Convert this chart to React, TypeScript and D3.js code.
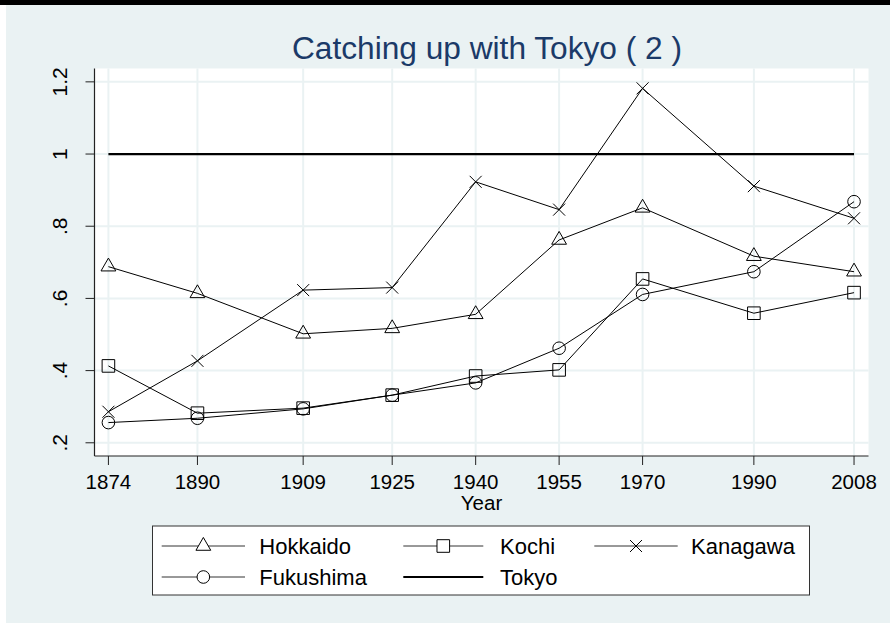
import React from "react";
import * as d3 from "d3";

const years = [1874, 1890, 1909, 1925, 1940, 1955, 1970, 1990, 2008];
const hokkaido = [0.688, 0.614, 0.502, 0.517, 0.556, 0.762, 0.851, 0.717, 0.674];
const kochi = [0.413, 0.282, 0.296, 0.332, 0.385, 0.402, 0.654, 0.559, 0.616];
const kanagawa = [0.286, 0.427, 0.623, 0.63, 0.923, 0.846, 1.182, 0.911, 0.822];
const fukushima = [0.256, 0.268, 0.294, 0.332, 0.366, 0.462, 0.611, 0.674, 0.868];
const tokyo = [1, 1, 1, 1, 1, 1, 1, 1, 1];
const yTicks = [0.2, 0.4, 0.6, 0.8, 1, 1.2];
const yTickLabels = [".2", ".4", ".6", ".8", "1", "1.2"];
const title = "Catching up with Tokyo ( 2 )";
const xTitle = "Year";

type Marker = "triangle" | "square" | "circle" | "x" | "none";
const seriesList: { name: string; values: number[]; marker: Marker; width: number }[] = [
  { name: "Hokkaido", values: hokkaido, marker: "triangle", width: 1 },
  { name: "Kochi", values: kochi, marker: "square", width: 1 },
  { name: "Kanagawa", values: kanagawa, marker: "x", width: 1 },
  { name: "Fukushima", values: fukushima, marker: "circle", width: 1 },
  { name: "Tokyo", values: tokyo, marker: "none", width: 2.2 },
];

const W = 890;
const H = 623;
const BG = "#EAF2F3";
const FONT = "'Liberation Sans', Arial, sans-serif";
const plot = { left: 94.5, right: 868.5, top: 68.5, bottom: 456 };

function markerPath(m: Marker): string {
  if (m === "triangle") return d3.symbol(d3.symbolTriangle, 95)()!;
  if (m === "square") return "M-6.3,-6.3H6.3V6.3H-6.3Z";
  if (m === "circle") return d3.symbol(d3.symbolCircle, Math.PI * 6.3 * 6.3)()!;
  if (m === "x") return "M-6,-6L6,6M-6,6L6,-6";
  return "";
}

export default function App() {
  const x = d3.scaleLinear().domain([1871.5, 2010.6]).range([plot.left, plot.right]);
  const y = d3.scaleLinear().domain([0.1634, 1.237]).range([plot.bottom, plot.top]);
  const line = d3
    .line<number>()
    .x((_, i) => x(years[i]))
    .y((d) => y(d));

  const legendCols = [
    { l1: 161.7, l2: 245, tx: 259.3 },
    { l1: 403.3, l2: 483.3, tx: 500 },
    { l1: 594.3, l2: 677.7, tx: 691 },
  ];
  const legendRows = [546, 577];

  return (
    <svg
      width={W}
      height={H}
      style={{ position: "absolute", left: 0, top: 0, fontFamily: FONT }}
    >
      <rect x={0} y={0} width={W} height={H} fill="#ffffff" />
      <rect x={6} y={5} width={W - 6} height={H - 5} fill={BG} />
      <rect x={0} y={0} width={W} height={5} fill="#000000" />

      <text x={487} y={59} textAnchor="middle" fontSize={31} fill="#1B3A68" textLength={390} lengthAdjust="spacingAndGlyphs">
        {title}
      </text>

      <rect
        x={plot.left}
        y={plot.top}
        width={plot.right - plot.left}
        height={plot.bottom - plot.top}
        fill="#ffffff"
      />
      {yTicks.map((t) => (
        <line
          key={"gy" + t}
          x1={plot.left}
          x2={plot.right}
          y1={y(t)}
          y2={y(t)}
          stroke={BG}
          strokeWidth={2}
        />
      ))}
      {years.map((yr) => (
        <line
          key={"gx" + yr}
          x1={x(yr)}
          x2={x(yr)}
          y1={plot.top}
          y2={plot.bottom}
          stroke={BG}
          strokeWidth={2}
        />
      ))}

      {seriesList.map((s) => (
        <g key={s.name}>
          <path d={line(s.values)!} fill="none" stroke="#000" strokeWidth={s.width} />
          {s.marker !== "none" &&
            s.values.map((v, i) => (
              <path
                key={i}
                d={markerPath(s.marker)}
                transform={`translate(${x(years[i])},${y(v)})`}
                fill="none"
                stroke="#000"
                strokeWidth={1}
              />
            ))}
        </g>
      ))}

      <line x1={plot.left} x2={plot.left} y1={plot.top} y2={plot.bottom} stroke="#222" strokeWidth={1.2} />
      <line x1={plot.left} x2={plot.right} y1={plot.bottom} y2={plot.bottom} stroke="#222" strokeWidth={1.2} />

      {yTicks.map((t, i) => (
        <g key={"ty" + t}>
          <line x1={plot.left - 9} x2={plot.left} y1={y(t)} y2={y(t)} stroke="#222" strokeWidth={1} />
          <text
            transform={`translate(67,${y(t)}) rotate(-90)`}
            textAnchor="middle"
            fontSize={21}
            fill="#000"
          >
            {yTickLabels[i]}
          </text>
        </g>
      ))}
      {years.map((yr) => (
        <g key={"tx" + yr}>
          <line x1={x(yr)} x2={x(yr)} y1={plot.bottom} y2={plot.bottom + 9} stroke="#222" strokeWidth={1} />
          <text x={x(yr)} y={488.5} textAnchor="middle" fontSize={20.5} fill="#000">
            {yr}
          </text>
        </g>
      ))}
      <text x={(plot.left + plot.right) / 2} y={510} textAnchor="middle" fontSize={20.5} fill="#000">
        {xTitle}
      </text>

      <rect x={152.5} y={526} width={657} height={69} fill="#fff" stroke="#333" strokeWidth={1} />
      {seriesList.map((s, i) => {
        const col = legendCols[i % 3];
        const ry = legendRows[Math.floor(i / 3)];
        const mx = (col.l1 + col.l2) / 2;
        return (
          <g key={"lg" + s.name}>
            <line
              x1={col.l1}
              x2={col.l2}
              y1={ry}
              y2={ry}
              stroke={s.width > 1 ? "#000" : "#333"}
              strokeWidth={s.width > 1 ? 2.2 : 1}
            />
            {s.marker !== "none" && (
              <path
                d={markerPath(s.marker)}
                transform={`translate(${mx},${ry})`}
                fill="#fff"
                stroke="#000"
                strokeWidth={1}
              />
            )}
            <text x={col.tx} y={ry + 8} fontSize={22} fill="#000">
              {s.name}
            </text>
          </g>
        );
      })}
    </svg>
  );
}
